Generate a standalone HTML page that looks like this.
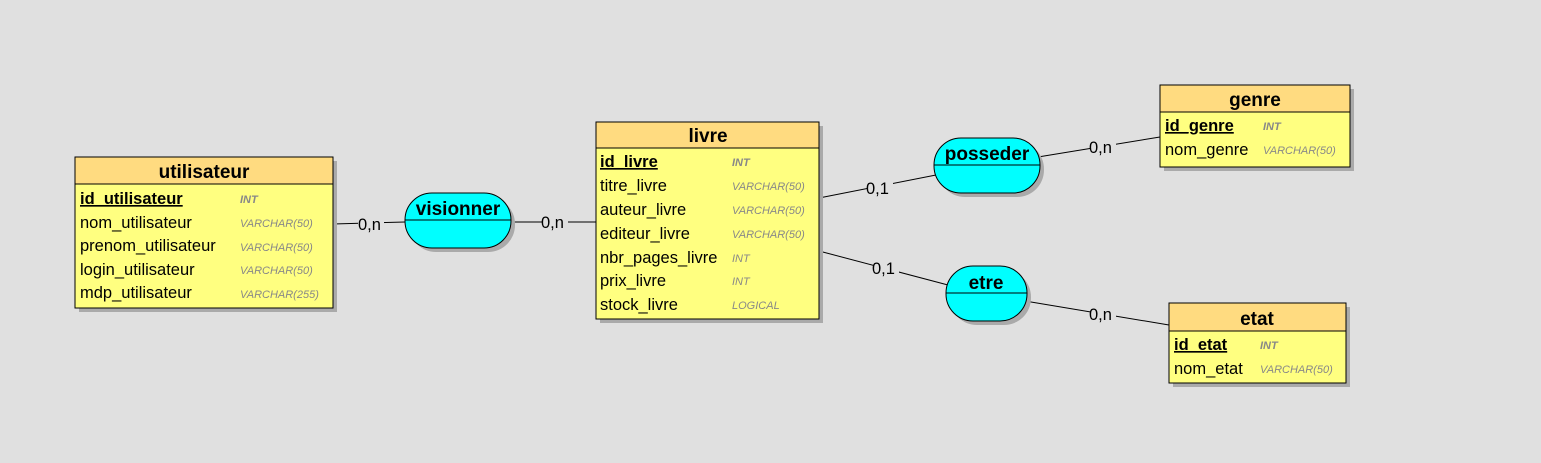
<!DOCTYPE html>
<html><head><meta charset="utf-8"><style>
html,body{margin:0;padding:0;background:#e0e0e0;width:1541px;height:463px;overflow:hidden}
svg{display:block}
text{font-family:"Liberation Sans",sans-serif}
.h{font-weight:bold;font-size:19px;text-anchor:middle}
.f{font-size:16.5px}
.k{font-size:16.5px;font-weight:bold;text-decoration:underline}
.t{font-size:11px;font-style:italic;fill:#888}
.tk{font-size:11px;font-style:italic;font-weight:bold;fill:#888}
.c{font-size:16.5px}
</style></head><body>
<svg width="1541" height="463" xmlns="http://www.w3.org/2000/svg">
<g stroke="#000" stroke-width="1">
<line x1="333" y1="224" x2="405" y2="222"/>
<line x1="511" y1="222" x2="596" y2="222"/>
<line x1="819" y1="198" x2="936" y2="175"/>
<line x1="1038" y1="157" x2="1160" y2="137"/>
<line x1="819" y1="251" x2="948" y2="285"/>
<line x1="1025" y1="301" x2="1169" y2="325"/>
</g>
<g fill="#e0e0e0">
<rect x="358" y="216" width="26" height="16"/>
<rect x="542" y="214" width="26" height="16"/>
<rect x="867" y="180" width="26" height="16"/>
<rect x="1090" y="140" width="26" height="16"/>
<rect x="873" y="260" width="26" height="16"/>
<rect x="1090" y="306" width="26" height="16"/>
</g>
<text class="c" x="358" y="230">0,n</text>
<text class="c" x="541" y="228">0,n</text>
<text class="c" x="866" y="194">0,1</text>
<text class="c" x="1089" y="153">0,n</text>
<text class="c" x="872" y="274">0,1</text>
<text class="c" x="1089" y="320">0,n</text>

<!-- utilisateur -->
<rect x="79" y="161" width="258" height="151" fill="#aaa"/>
<rect x="75" y="157" width="258" height="151" fill="#ffff80" stroke="#000"/>
<rect x="75" y="157" width="258" height="27" fill="#ffdb80" stroke="#000"/>
<text class="h" x="204" y="178">utilisateur</text>
<text class="k" x="80" y="204">id_utilisateur</text><text class="tk" x="240" y="203">INT</text>
<text class="f" x="80" y="228">nom_utilisateur</text><text class="t" x="240" y="227">VARCHAR(50)</text>
<text class="f" x="80" y="251">prenom_utilisateur</text><text class="t" x="240" y="251">VARCHAR(50)</text>
<text class="f" x="80" y="275">login_utilisateur</text><text class="t" x="240" y="274">VARCHAR(50)</text>
<text class="f" x="80" y="298">mdp_utilisateur</text><text class="t" x="240" y="298">VARCHAR(255)</text>

<!-- livre -->
<rect x="600" y="126" width="223" height="197" fill="#aaa"/>
<rect x="596" y="122" width="223" height="197" fill="#ffff80" stroke="#000"/>
<rect x="596" y="122" width="223" height="26" fill="#ffdb80" stroke="#000"/>
<text class="h" x="708" y="142">livre</text>
<text class="k" x="600" y="167">id_livre</text><text class="tk" x="732" y="166">INT</text>
<text class="f" x="600" y="191">titre_livre</text><text class="t" x="732" y="190">VARCHAR(50)</text>
<text class="f" x="600" y="215">auteur_livre</text><text class="t" x="732" y="214">VARCHAR(50)</text>
<text class="f" x="600" y="239">editeur_livre</text><text class="t" x="732" y="238">VARCHAR(50)</text>
<text class="f" x="600" y="263">nbr_pages_livre</text><text class="t" x="732" y="262">INT</text>
<text class="f" x="600" y="286">prix_livre</text><text class="t" x="732" y="285">INT</text>
<text class="f" x="600" y="310">stock_livre</text><text class="t" x="732" y="309">LOGICAL</text>

<!-- genre -->
<rect x="1164" y="89" width="190" height="82" fill="#aaa"/>
<rect x="1160" y="85" width="190" height="82" fill="#ffff80" stroke="#000"/>
<rect x="1160" y="85" width="190" height="27" fill="#ffdb80" stroke="#000"/>
<text class="h" x="1255" y="106">genre</text>
<text class="k" x="1165" y="131">id_genre</text><text class="tk" x="1263" y="130">INT</text>
<text class="f" x="1165" y="155">nom_genre</text><text class="t" x="1263" y="154">VARCHAR(50)</text>

<!-- etat -->
<rect x="1173" y="307" width="177" height="80" fill="#aaa"/>
<rect x="1169" y="303" width="177" height="80" fill="#ffff80" stroke="#000"/>
<rect x="1169" y="303" width="177" height="28" fill="#ffdb80" stroke="#000"/>
<text class="h" x="1257" y="325">etat</text>
<text class="k" x="1174" y="350">id_etat</text><text class="tk" x="1260" y="349">INT</text>
<text class="f" x="1174" y="374">nom_etat</text><text class="t" x="1260" y="373">VARCHAR(50)</text>

<!-- associations -->
<rect x="409" y="197" width="106" height="55" rx="27" fill="#aaa"/>
<rect x="405" y="193" width="106" height="55" rx="27" fill="#00ffff" stroke="#000"/>
<line x1="405" y1="220" x2="511" y2="220" stroke="#000"/>
<text class="h" x="458" y="215">visionner</text>

<rect x="938" y="142" width="106" height="55" rx="27" fill="#aaa"/>
<rect x="934" y="138" width="106" height="55" rx="27" fill="#00ffff" stroke="#000"/>
<line x1="934" y1="165" x2="1040" y2="165" stroke="#000"/>
<text class="h" x="987" y="160">posseder</text>

<rect x="950" y="270" width="81" height="55" rx="27" fill="#aaa"/>
<rect x="946" y="266" width="81" height="55" rx="27" fill="#00ffff" stroke="#000"/>
<line x1="946" y1="293" x2="1027" y2="293" stroke="#000"/>
<text class="h" x="986" y="289">etre</text>
</svg>
</body></html>
